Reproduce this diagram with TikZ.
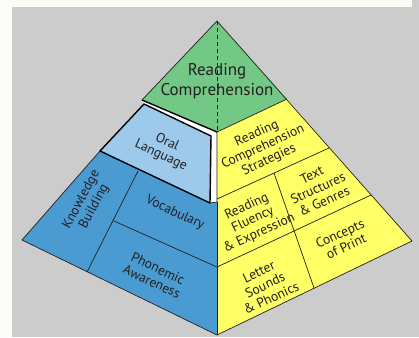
\documentclass[tikz,border=0pt]{standalone}
\usepackage{fontspec}
\setmainfont{PT Sans}
\definecolor{bgwhite}{HTML}{FBFCF6}
\definecolor{bggray}{HTML}{CCCCCC}
\definecolor{topgreen}{HTML}{72C884}
\definecolor{faceblue}{HTML}{4B9BD3}
\definecolor{lightblue}{HTML}{9DCAEB}
\definecolor{faceyellow}{HTML}{FFFF66}
\definecolor{ink}{HTML}{231F20}
\begin{document}
\begin{tikzpicture}[x=1pt,y=-1pt,
  edge/.style={draw=ink,line width=0.7pt,line join=round},
  thick edge/.style={draw=black,line width=1.4pt,line join=round},
  lbl/.style={text=ink,align=center,font=\fontsize{13.5}{14.5}\selectfont,inner sep=0pt},
  title/.style={text=ink,align=center,font=\fontsize{17}{20}\selectfont,inner sep=0pt},
]
\useasboundingbox (0,0) rectangle (419,337);
\fill[bgwhite] (0,0) rectangle (419,337);
\fill[bggray] (12,7) rectangle (419,337);
\fill[bggray] (412,0) rectangle (419,7);

\coordinate (apex) at (217,21);
\coordinate (L) at (22,240);
\coordinate (R) at (412,241);
\coordinate (B) at (217,335);
\coordinate (G1) at (142,100);
\coordinate (G2) at (287,99);
\coordinate (Gc) at (217,132);
\coordinate (O1) at (144,104);
\coordinate (O2) at (211,136);
\coordinate (O3) at (210,203);
\coordinate (O4) at (100,151);
\coordinate (Oc) at (217,202);

% faces
\fill[topgreen] (apex) -- (G2) -- (Gc) -- (G1) -- cycle;
\fill[faceyellow] (G2) -- (R) -- (B) -- (Gc) -- cycle;
\fill[faceblue] (O4) -- (O3) -- (Oc) -- (B) -- (L) -- cycle;
\fill[white] (G1) -- (Gc) -- (O2) -- (O1) -- cycle;
\fill[white] (O2) -- (Gc) -- (Oc) -- (O3) -- cycle;
\fill[lightblue] (O1) -- (O2) -- (O3) -- (O4) -- cycle;

% yellow dividers
\coordinate (y1a) at (217,199);
\coordinate (y1b) at (329,148);
\coordinate (y2a) at (217,267);
\coordinate (y2b) at (371,195);
\coordinate (y3a) at (274,173);
\coordinate (y3b) at (314,288);
\draw[edge] (y1a) -- (y1b);
\draw[edge] (y2a) -- (y2b);
\draw[edge] (y3a) -- (y3b);
% blue dividers
\coordinate (b1a) at (138,171);
\coordinate (b1b) at (87,272);
\coordinate (b2a) at (114,221);
\coordinate (b2b) at (217,267);
\draw[edge] (b1a) -- (b1b);
\draw[edge] (b2a) -- (b2b);

% outlines
\draw[edge] (G1) -- (apex) -- (R) -- (B) -- (L) -- (O4);
\draw[edge] (G2) -- (Gc);
\draw[edge] (Oc) -- (B);
\draw[edge,dash pattern=on 4pt off 3pt] (apex) -- (Gc);
\draw[thick edge] (G1) -- (Gc);
\draw[thick edge] (O4) -- (O1) -- (O2) -- (O3) -- cycle;
\draw[edge] (Gc) -- (Oc) -- (O3);

% labels
\node[title] (t0) at (217,81) {Reading\\Comprehension};
\node[lbl,rotate=-25] (t1) at (164,149) {Oral\\Language};
\node[lbl,rotate=25] (t2) at (263,147) {Reading\\Comprehension\\Strategies};
\node[lbl,rotate=62] (t3) at (88,203) {Knowledge\\Building};
\node[lbl,rotate=-25] (t4) at (175,213) {Vocabulary};
\node[lbl,rotate=-25] (t5) at (155,275) {Phonemic\\Awareness};
\node[lbl,rotate=25] (t6) at (253,220) {Reading\\Fluency\\\& Expression};
\node[lbl,rotate=25] (t7) at (318,188) {Text\\Structures\\\& Genres};
\node[lbl,rotate=25] (t8) at (343,240) {Concepts\\of Print};
\node[lbl,rotate=25] (t9) at (265,285) {Letter\\Sounds\\\& Phonics};
\end{tikzpicture}
\end{document}
